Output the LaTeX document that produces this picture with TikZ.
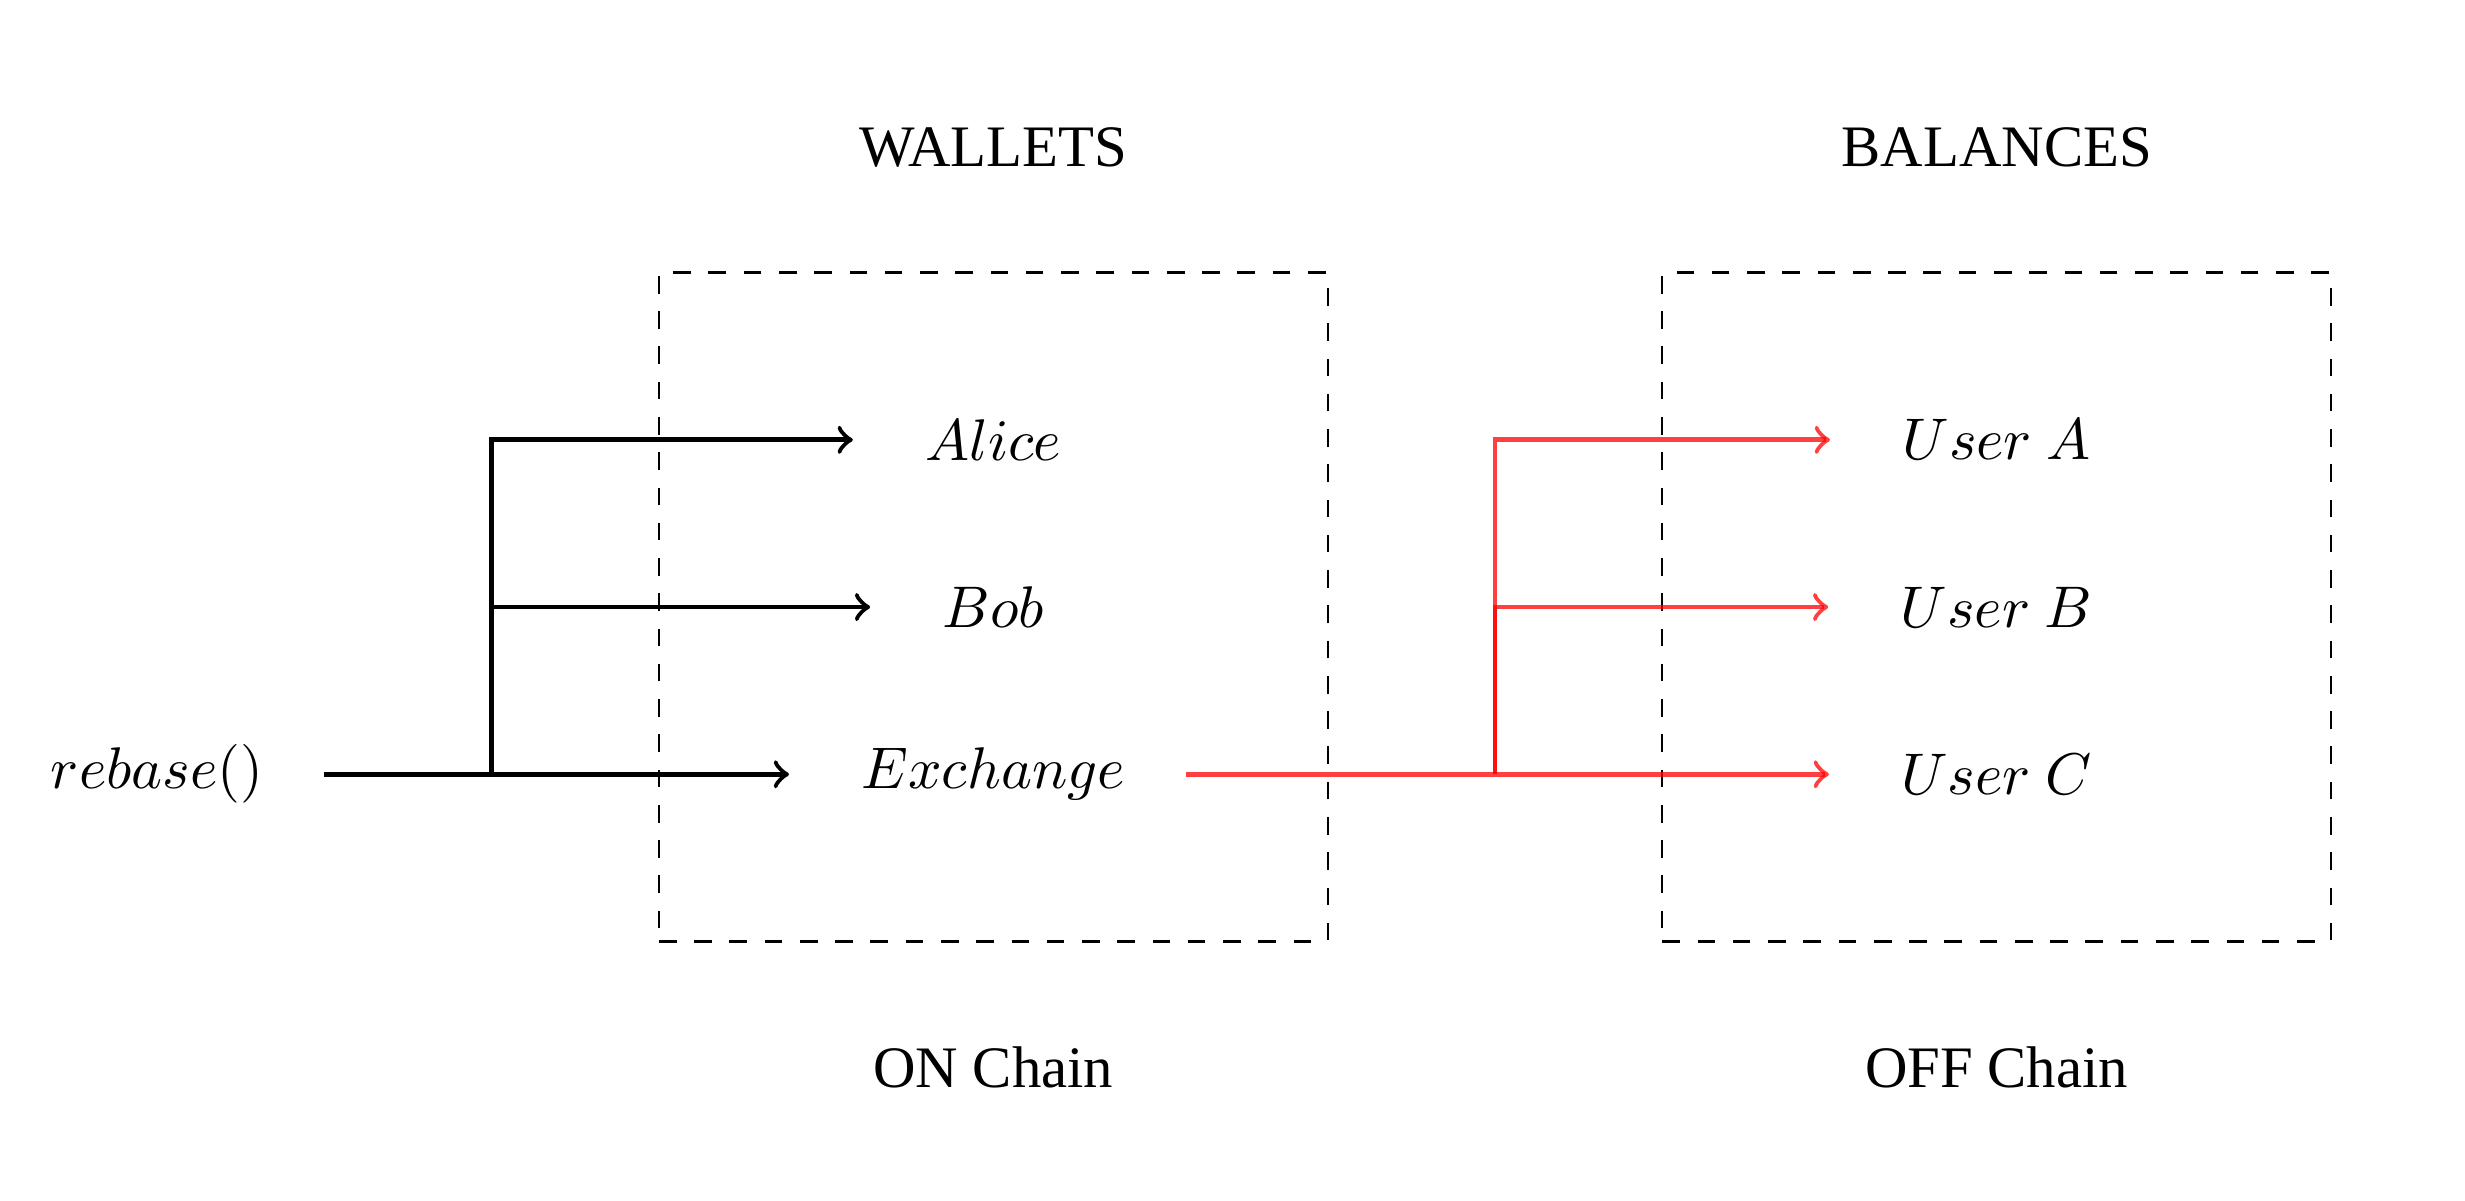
\documentclass[tikz,border=0pt]{standalone}
\usepackage{fontspec}
\setmainfont{Liberation Serif}
\usepackage{amsmath}

\begin{document}
\begin{tikzpicture}[thick,
  item/.style={inner xsep=0.42cm},
  chainbox/.style={draw,dashed,thin,minimum size=4cm,inner sep=0pt},
  offlink/.style={red,opacity=0.75}]
  \useasboundingbox (-5.94,-2.55) rectangle (8.80,4.63);
  % cajas on / off chain
  \node[chainbox] (wallets) at (0,1){};
  \node[chainbox] (balances) at (6,1){};
  \node (wtitle) at (0,3.75){WALLETS};   \node (btitle) at (6,3.75){BALANCES};
  \node (on) at (0,-1.75){ON Chain};     \node (off) at (6,-1.75){OFF Chain};
  % nodos
  \node[item] (rebase) at (-5,0){$rebase()$};
  \node[item] (alice) at (0,2){$Alice$};
  \node[item] (bob) at (0,1){$Bob$};
  \node[item] (exchange) at (0,0){$Exchange$};
  \node[item] (usera) at (6,2){$User\ A$};
  \node[item] (userb) at (6,1){$User\ B$};
  \node[item] (userc) at (6,0){$User\ C$};
  \coordinate (split) at (-3,0); \coordinate (rsplit) at (3,0);
  % rebase en cadena
  \draw[->,shorten <=-2pt] (rebase.east)--(exchange.west);
  \draw[->] (split) |- (alice.west); \draw[->] (split) |- (bob.west);
  % saldos fuera de cadena
  \draw[offlink,->,shorten <=-2pt] (exchange.east)--(userc.west);
  \draw[offlink,->] (rsplit) |- (usera.west); \draw[offlink,->] (rsplit) |- (userb.west);
\end{tikzpicture}
\end{document}
